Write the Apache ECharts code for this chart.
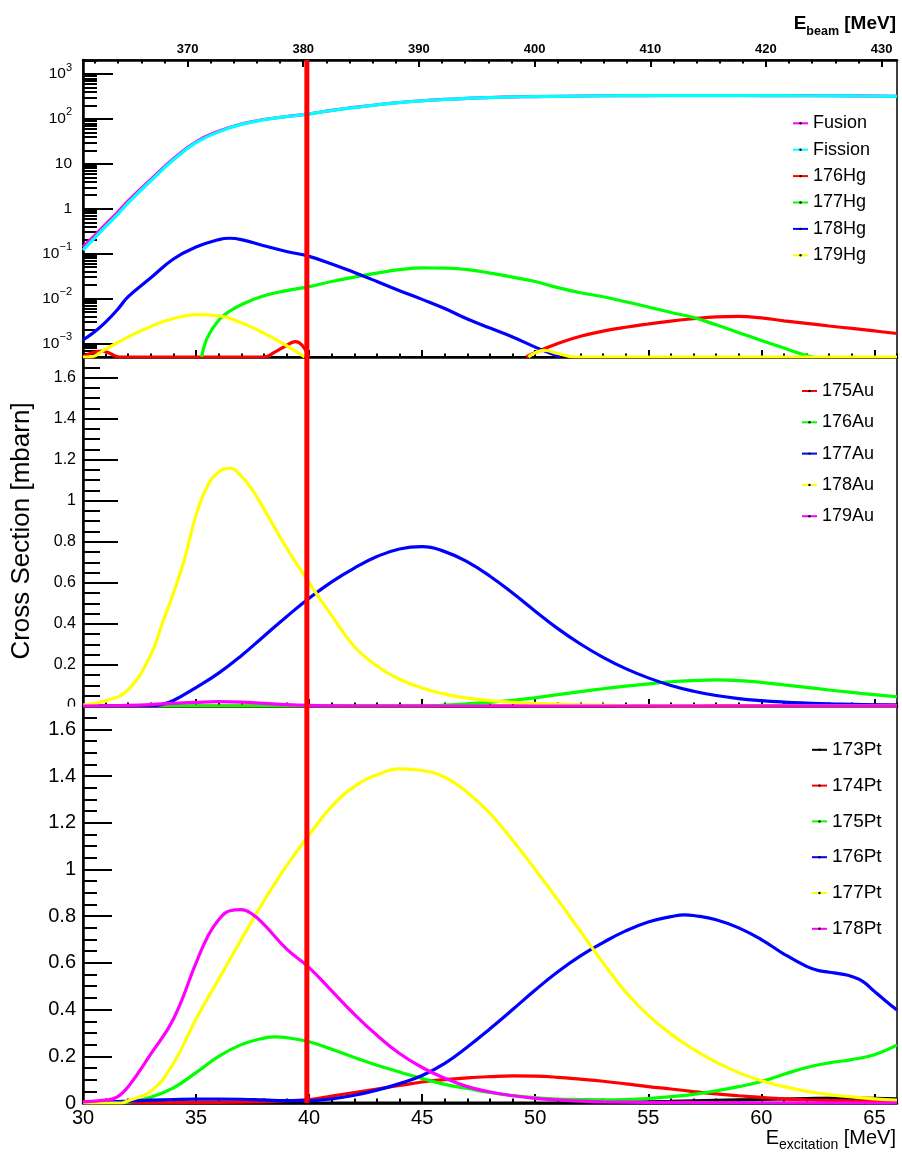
<!DOCTYPE html>
<html>
<head>
<meta charset="utf-8">
<title>Cross sections vs excitation energy</title>
<script src="https://cdn.jsdelivr.net/npm/echarts@6.0.0/dist/echarts.min.js"></script>
<style>
  html, body { margin: 0; padding: 0; background: #fff; }
  #chart { width: 902px; height: 1153px; }
</style>
</head>
<body>
<div id="chart"></div>
<script>
const FONT = '"Liberation Sans", Arial, Helvetica, sans-serif';

// Axis ranges
const EX_RANGE = [30, 66];            // E_excitation [MeV]
const BEAM_RANGE = [360.96, 431.33];  // E_beam [MeV] across the same width
const LOG_RANGE = [5e-4, 2050];       // top panel, log scale
const LIN_RANGE = [0, 1.7];           // Au and Pt panels
const MARKER_EX = 39.9;               // excitation energy at E_beam = 380 MeV

function steps(from, to, step) {
  const out = [];
  for (let v = from; v <= to + 1e-9; v += step) out.push(+v.toFixed(4));
  return out;
}

// Tick positions
const exMajorTicks = [30, 35, 40, 45, 50, 55, 60, 65];
const exMinorTicks = steps(30, 66, 1);
const beamMajorTicks = [370, 380, 390, 400, 410, 420, 430];
const beamMinorTicks = steps(362, 430, 2);
const logMajorTicks = [1e-3, 1e-2, 1e-1, 1, 10, 100, 1000];
const logMinorTicks = [];
for (let d = -4; d <= 3; d++) {
  for (let k = 2; k <= 9; k++) {
    const v = +(k * Math.pow(10, d)).toPrecision(3);
    if (v >= LOG_RANGE[0] && v <= LOG_RANGE[1]) logMinorTicks.push(v);
  }
}
const linMajorTicks = [0, 0.2, 0.4, 0.6, 0.8, 1, 1.2, 1.4, 1.6];
const linMinorTicks = steps(0, 1.7, 0.05);

// ---- Top panel: fusion / fission and Hg residues, [E_excitation, sigma] ----
const fusion = [[30,0.14],[30.5,0.25],[31,0.45],[31.5,0.8],[32,1.5],[33,4.5],[34,13],[35,31],[36,53],[37,77],[38,97],[39,113],[40,130],[41,155],[42,180],[43,207],[44,232],[45,254],[46,272],[47,288],[48,300],[49,309],[50,315],[52,324],[54,330],[56,332],[58,332],[60,331],[62,329],[64,326],[66,320]];
const fission = [[30,0.12],[30.5,0.22],[31,0.4],[31.5,0.72],[32,1.35],[33,4.2],[34,12.3],[35,29.5],[36,51.5],[37,75.5],[38,96],[39,112],[40,129],[41,154],[42,179],[43,206],[44,231],[45,253],[46,271],[47,287],[48,299],[49,308],[50,314],[52,323],[54,329],[56,331],[58,331],[60,330],[62,328],[64,325],[66,319]];
const hg176 = [[30,5e-4],[30.4,6.2e-4],[30.8,6.8e-4],[31.2,6e-4],[31.6,5e-4],[38,5e-4],[38.5,6.5e-4],[39,9e-4],[39.4,1.1e-3],[39.7,9e-4],[40,5e-4],[45,null],[49.6,5e-4],[50,6.3e-4],[51,1.0e-3],[52,1.45e-3],[53,1.88e-3],[54,2.3e-3],[55,2.72e-3],[56,3.15e-3],[57,3.55e-3],[58,3.9e-3],[59,4.0e-3],[60,3.7e-3],[61,3.2e-3],[62,2.8e-3],[63,2.45e-3],[64,2.16e-3],[65,1.9e-3],[66,1.67e-3]];
const hg177 = [[35.25,5e-4],[35.5,1.35e-3],[36,3.3e-3],[36.5,5.3e-3],[37,7.3e-3],[38,0.0115],[39,0.015],[40,0.0185],[41,0.024],[42,0.03],[43,0.037],[44,0.044],[45,0.048],[46,0.0478],[47,0.044],[48,0.037],[49,0.03],[50,0.024],[51,0.0175],[52,0.0135],[53,0.011],[54,0.0085],[55,0.0065],[56,0.0049],[57,0.0038],[58,0.0026],[59,0.00174],[60,0.00117],[61,0.00079],[62,0.00054],[62.3,0.0005]];
const hg178 = [[30,1.2e-3],[30.5,1.8e-3],[31,3e-3],[31.5,5.5e-3],[32,0.011],[33,0.029],[34,0.076],[35,0.14],[36,0.205],[36.5,0.22],[37,0.205],[38,0.15],[39,0.112],[40,0.087],[41,0.059],[42,0.038],[43,0.024],[44,0.015],[45,0.0096],[46,0.006],[47,0.0035],[48,0.0022],[49,0.0014],[50,0.00083],[51,0.00052],[51.1,0.0005]];
const hg179 = [[30,5e-4],[30.3,5e-4],[31,7.5e-4],[32,1.4e-3],[33,2.4e-3],[34,3.6e-3],[35,4.4e-3],[36,4.15e-3],[37,2.9e-3],[38,1.7e-3],[39,9e-4],[39.8,5e-4],[45,null],[49.7,5e-4],[50.4,7e-4],[51,6e-4],[51.8,5e-4],[66,5e-4]];

// ---- Middle panel: Au residues ----
const au175 = [[30,0],[40,0],[50,0],[54,0.0005],[58,0.0015],[62,0.0025],[66,0.004]];
const au176 = [[30,0],[45,0],[46,0.004],[47,0.01],[48,0.018],[49,0.028],[50,0.04],[51,0.055],[52,0.07],[53,0.084],[54,0.097],[55,0.108],[56,0.118],[57,0.124],[58,0.127],[59,0.124],[60,0.115],[61,0.103],[62,0.091],[63,0.078],[64,0.066],[65,0.055],[66,0.045]];
const au177 = [[30,0],[33,0],[33.5,0.008],[34,0.027],[35,0.09],[36,0.16],[37,0.245],[38,0.34],[39,0.435],[40,0.525],[41,0.605],[42,0.672],[43,0.728],[44,0.765],[45,0.776],[46,0.752],[47,0.702],[48,0.632],[49,0.55],[50,0.462],[51,0.377],[52,0.302],[53,0.237],[54,0.182],[55,0.137],[56,0.1],[57,0.072],[58,0.051],[59,0.036],[60,0.026],[61,0.019],[62,0.014],[63,0.01],[64,0.008],[65,0.006],[66,0.004]];
const au178 = [[30,0.005],[31,0.025],[32,0.08],[33,0.25],[33.5,0.4],[34,0.55],[34.5,0.72],[35,0.93],[35.5,1.07],[36,1.14],[36.5,1.158],[37,1.12],[37.5,1.05],[38,0.96],[39,0.77],[40,0.6],[41,0.44],[42,0.29],[43,0.195],[44,0.13],[45,0.088],[46,0.058],[47,0.038],[48,0.026],[49,0.018],[50,0.013],[51,0.009],[52,0.006],[53,0.004],[54,0.002],[56,0.001],[58,0],[66,0]];
const au179 = [[30,0],[31,0.001],[32,0.003],[33,0.007],[34,0.013],[35,0.018],[36,0.021],[37,0.019],[38,0.013],[39,0.007],[40,0.003],[41,0.001],[42,0],[66,0]];

// ---- Bottom panel: Pt residues ----
const pt173 = [[30,0],[50,0],[52,0.002],[54,0.004],[56,0.007],[58,0.011],[60,0.015],[62,0.019],[64,0.021],[66,0.018]];
const pt174 = [[30,0],[34,0.001],[36,0.003],[38,0.006],[40,0.015],[41,0.03],[42,0.045],[43,0.06],[44,0.075],[45,0.09],[46,0.1],[47,0.108],[48,0.113],[49,0.116],[50,0.115],[51,0.11],[52,0.102],[53,0.093],[54,0.082],[55,0.07],[56,0.06],[57,0.049],[58,0.039],[59,0.031],[60,0.024],[61,0.018],[62,0.014],[63,0.011],[64,0.009],[65,0.008],[66,0.007]];
const pt175 = [[30,0],[31.6,0],[32,0.005],[33,0.025],[34,0.065],[35,0.13],[36,0.2],[37,0.25],[38,0.278],[38.5,0.283],[39,0.28],[40,0.262],[41,0.23],[42,0.195],[43,0.162],[44,0.133],[45,0.105],[46,0.08],[47,0.062],[48,0.045],[49,0.032],[50,0.023],[51,0.017],[52,0.015],[53,0.014],[54,0.015],[55,0.019],[56,0.027],[57,0.037],[58,0.052],[59,0.07],[60,0.092],[61,0.123],[62,0.152],[63,0.172],[64,0.186],[65,0.207],[66,0.248]];
const pt176 = [[30,0.002],[31,0.005],[32,0.008],[33,0.012],[34,0.015],[35,0.017],[36,0.017],[37,0.016],[38,0.013],[39,0.01],[40,0.01],[41,0.018],[42,0.033],[43,0.055],[44,0.083],[45,0.118],[46,0.17],[47,0.24],[48,0.318],[49,0.4],[50,0.484],[51,0.562],[52,0.63],[53,0.687],[54,0.737],[55,0.775],[56,0.798],[56.6,0.806],[57,0.803],[58,0.785],[59,0.75],[60,0.7],[61,0.638],[62,0.585],[62.5,0.568],[63,0.56],[63.5,0.553],[64,0.542],[64.5,0.52],[65,0.478],[65.5,0.437],[66,0.398]];
const pt177 = [[30,0],[31.7,0],[32,0.01],[33,0.05],[34,0.17],[35,0.36],[36,0.53],[37,0.7],[38,0.865],[39,1.015],[40,1.148],[41,1.27],[42,1.355],[43,1.405],[44,1.431],[45,1.424],[46,1.395],[47,1.33],[48,1.24],[49,1.125],[50,1.0],[51,0.87],[52,0.735],[53,0.6],[54,0.475],[55,0.375],[56,0.295],[57,0.23],[58,0.175],[59,0.13],[60,0.095],[61,0.07],[62,0.05],[63,0.036],[64,0.026],[65,0.018],[66,0.012]];
const pt178 = [[30,0.005],[31,0.012],[31.5,0.025],[32,0.07],[33,0.21],[34,0.36],[35,0.6],[35.5,0.71],[36,0.785],[36.5,0.823],[37,0.828],[37.5,0.808],[38,0.765],[39,0.66],[40,0.58],[41,0.48],[42,0.38],[43,0.29],[44,0.212],[45,0.152],[46,0.106],[47,0.07],[48,0.047],[49,0.031],[50,0.02],[51,0.013],[52,0.008],[53,0.005],[55,0.003],[60,0.001],[66,0]];

// Legend names and line colours, in drawing order
const hgNames = ['Fusion', 'Fission', '176Hg', '177Hg', '178Hg', '179Hg'];
const hgColors = ['#ff00ff', '#00ffff', '#ff0000', '#00ff00', '#0000ff', '#ffff00'];
const hgData = [fusion, fission, hg176, hg177, hg178, hg179];
const auNames = ['175Au', '176Au', '177Au', '178Au', '179Au'];
const auColors = ['#ff0000', '#00ff00', '#0000ff', '#ffff00', '#ff00ff'];
const auData = [au175, au176, au177, au178, au179];
const ptNames = ['173Pt', '174Pt', '175Pt', '176Pt', '177Pt', '178Pt'];
const ptColors = ['#000000', '#ff0000', '#00ff00', '#0000ff', '#ffff00', '#ff00ff'];
const ptData = [pt173, pt174, pt175, pt176, pt177, pt178];

// ---- layout ----
const PLOT_LEFT = 83, PLOT_WIDTH = 814;
const grids = [
  { top: 60, height: 297 },
  { top: 357, height: 349 },
  { top: 706, height: 397 }
];
const X_AXIS_OF = [0, 4, 6];
const Y_AXIS_OF = [0, 2, 4];

const black = '#000';
const lineW = 2.5;

function exAxis(gridIndex, major, tickLen, label) {
  return {
    type: 'value', gridIndex: gridIndex, position: 'bottom',
    min: EX_RANGE[0], max: EX_RANGE[1],
    axisLine: { show: major, onZero: false, lineStyle: { color: black, width: lineW } },
    axisTick: { show: true, inside: true, length: tickLen,
      customValues: major ? exMajorTicks : exMinorTicks,
      lineStyle: { color: black, width: 2 } },
    axisLabel: label ? Object.assign({ show: true, customValues: exMajorTicks, color: black, fontFamily: FONT }, label) : { show: false },
    splitLine: { show: false }
  };
}

function beamAxis(major, tickLen) {
  return {
    type: 'value', gridIndex: 0, position: 'top',
    min: BEAM_RANGE[0], max: BEAM_RANGE[1],
    axisLine: { show: major, onZero: false, lineStyle: { color: black, width: lineW } },
    axisTick: { show: true, inside: true, length: tickLen,
      customValues: major ? beamMajorTicks : beamMinorTicks,
      lineStyle: { color: black, width: 2 } },
    axisLabel: major ? { show: true, customValues: beamMajorTicks, color: black, fontFamily: FONT,
      fontWeight: 'bold', fontSize: 13, margin: 4 } : { show: false },
    splitLine: { show: false }
  };
}

function supLabel(v) {
  const e = Math.round(Math.log10(v));
  if (e === 0) return '1';
  if (e === 1) return '10';
  return '10{sup|' + (e < 0 ? '\u2212' : '') + Math.abs(e) + '}';
}

function yAxisDef(gridIndex, type, range, ticks, tickLen, label) {
  return {
    type: type, gridIndex: gridIndex, position: 'left',
    min: range[0], max: range[1],
    axisLine: { show: !!label, onZero: false, lineStyle: { color: black, width: lineW } },
    axisTick: { show: true, inside: true, length: tickLen, customValues: ticks,
      lineStyle: { color: black, width: 2 } },
    axisLabel: label ? Object.assign({ show: true, color: black, fontFamily: FONT }, label) : { show: false },
    splitLine: { show: false },
    minorTick: { show: false }
  };
}

const xAxes = [
  exAxis(0, true, 7), exAxis(0, false, 3.5),
  beamAxis(true, 7), beamAxis(false, 3.5),
  exAxis(1, true, 7), exAxis(1, false, 3.5),
  exAxis(2, true, 9, { fontSize: 20, margin: 5 }), exAxis(2, false, 4.5)
];

const yAxes = [
  yAxisDef(0, 'log', LOG_RANGE, logMajorTicks, 30, {
    customValues: logMajorTicks, fontSize: 15.5, margin: 11, lineHeight: 24,
    formatter: supLabel,
    rich: { sup: { fontSize: 11, lineHeight: 14, verticalAlign: 'top', fontFamily: FONT, color: black } }
  }),
  yAxisDef(0, 'log', LOG_RANGE, logMinorTicks, 14, null),
  yAxisDef(1, 'value', LIN_RANGE, linMajorTicks, 35, { customValues: linMajorTicks, fontSize: 16, margin: 7 }),
  yAxisDef(1, 'value', LIN_RANGE, linMinorTicks, 17, null),
  yAxisDef(2, 'value', LIN_RANGE, linMajorTicks, 29, { customValues: linMajorTicks, fontSize: 20, margin: 7 }),
  yAxisDef(2, 'value', LIN_RANGE, linMinorTicks, 14, null)
];

function curve(name, color, data, gi) {
  return {
    name: name, type: 'line',
    xAxisIndex: X_AXIS_OF[gi], yAxisIndex: Y_AXIS_OF[gi],
    data: data, smooth: 0.45, connectNulls: false, clip: true,
    symbol: 'circle', symbolSize: 2, showSymbol: false,
    lineStyle: { color: color, width: 3.2 },
    itemStyle: { color: color },
    emphasis: { disabled: true }, silent: true
  };
}

const series = [];
hgNames.forEach((n, i) => series.push(curve(n, hgColors[i], hgData[i], 0)));
auNames.forEach((n, i) => series.push(curve(n, auColors[i], auData[i], 1)));
ptNames.forEach((n, i) => series.push(curve(n, ptColors[i], ptData[i], 2)));

// vertical marker through all three panels
[LOG_RANGE, LIN_RANGE, LIN_RANGE].forEach((range, gi) => {
  series.push({
    name: 'marker' + gi, type: 'line',
    xAxisIndex: X_AXIS_OF[gi], yAxisIndex: Y_AXIS_OF[gi],
    data: [[MARKER_EX, range[0]], [MARKER_EX, range[1]]],
    symbol: 'none', showSymbol: false, z: 5, silent: true,
    lineStyle: { color: '#ff0000', width: 5, cap: 'butt' },
    emphasis: { disabled: true }
  });
});

function legendDef(names, left, top, gap, fontSize) {
  return {
    data: names, orient: 'vertical', left: left, top: top, padding: 0,
    itemGap: gap, itemWidth: 15, itemHeight: 3, selectedMode: false,
    itemStyle: { color: black, borderWidth: 0 },
    textStyle: { color: black, fontFamily: FONT, fontSize: fontSize, lineHeight: 18 }
  };
}

const option = {
  animation: false,
  backgroundColor: '#fff',
  grid: grids.map(g => ({
    left: PLOT_LEFT, width: PLOT_WIDTH, top: g.top, height: g.height,
    containLabel: false, outerBoundsMode: 'none',
    show: true, borderColor: black, borderWidth: 1.5, backgroundColor: 'transparent'
  })),
  xAxis: xAxes,
  yAxis: yAxes,
  legend: [
    legendDef(hgNames, 792, 114.3, 8.4, 18),
    legendDef(auNames, 801, 382, 13.3, 18),
    legendDef(ptNames, 811, 740.3, 16.8, 19)
  ],
  series: series,
  graphic: [
    {
      type: 'text', x: 22, y: 531, rotation: Math.PI / 2,
      style: { text: 'Cross Section [mbarn]', fill: black, font: '26px ' + FONT,
        align: 'center', verticalAlign: 'middle' }
    },
    {
      type: 'text', x: 896, y: 1124,
      style: {
        text: '{e|E}{s|excitation}{e| [MeV]}', align: 'right', verticalAlign: 'top',
        rich: {
          e: { fontSize: 20, lineHeight: 28, fontFamily: FONT, fill: black },
          s: { fontSize: 14, lineHeight: 14, verticalAlign: 'bottom', fontFamily: FONT, fill: black }
        }
      }
    },
    {
      type: 'text', x: 896, y: 8.4,
      style: {
        text: '{e|E}{s|beam}{e| [MeV]}', align: 'right', verticalAlign: 'top',
        rich: {
          e: { fontSize: 19, fontWeight: 'bold', lineHeight: 30, fontFamily: FONT, fill: black },
          s: { fontSize: 12.5, fontWeight: 'bold', lineHeight: 12.5, verticalAlign: 'bottom', fontFamily: FONT, fill: black }
        }
      }
    },
    {
      // the lower panel's pad hides the bottom half of the middle panel's "0"
      type: 'rect', z: 100, shape: { x: 0, y: 706.5, width: 81, height: 14 },
      style: { fill: '#fff' }
    }
  ]
};

const chart = echarts.init(document.getElementById('chart'), null, { renderer: 'canvas' });
chart.setOption(option);
</script>
</body>
</html>
